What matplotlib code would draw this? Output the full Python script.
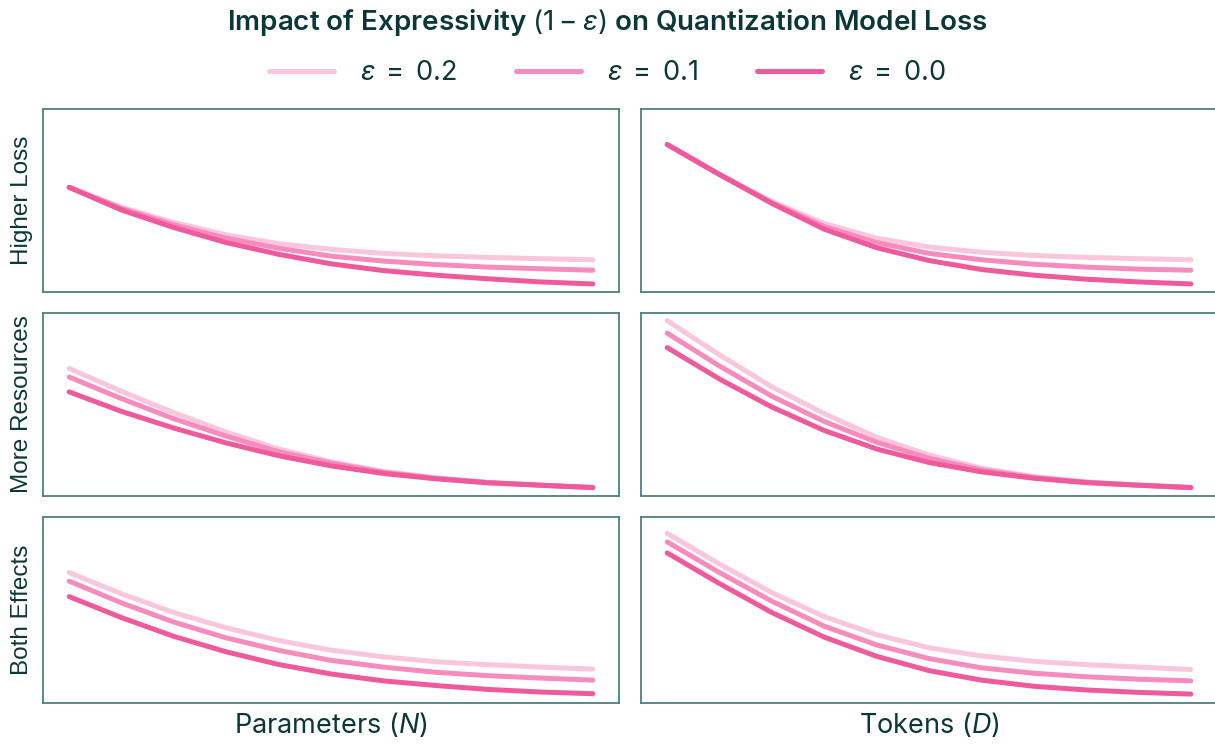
import matplotlib
matplotlib.use("Agg")
import matplotlib.pyplot as plt

plt.rcParams['font.family'] = ['Inter', 'DejaVu Sans']
plt.rcParams['mathtext.fontset'] = 'custom'
plt.rcParams['mathtext.rm'] = 'Inter'
plt.rcParams['mathtext.it'] = 'Inter:italic'
plt.rcParams['mathtext.bf'] = 'Inter:bold'

TEXT = '#0c3637'
SPINE = '#4d7f80'

title = r'Impact of Expressivity $(1-\varepsilon)$ on Quantization Model Loss'
series_labels = [r'$\varepsilon\;=\;0.2$', r'$\varepsilon\;=\;0.1$', r'$\varepsilon\;=\;0.0$']
series_colors = ['#f9c6de', '#f68cbd', '#ef5a9c']
row_labels = ['Higher Loss', 'More Resources', 'Both Effects']
col_labels = [r'Parameters $(N)$', r'Tokens $(D)$']

x = [0, 1, 2, 3, 4, 5, 6, 7, 8, 9, 10]

# values[row][col] = [eps0.2, eps0.1, eps0.0]
hl_N = [
    [0.572, 0.462, 0.380, 0.312, 0.264, 0.233, 0.211, 0.198, 0.189, 0.182, 0.176],
    [0.572, 0.457, 0.367, 0.294, 0.239, 0.196, 0.169, 0.150, 0.136, 0.127, 0.119],
    [0.572, 0.448, 0.352, 0.270, 0.206, 0.154, 0.117, 0.092, 0.072, 0.055, 0.044],
]
hl_D = [
    [0.806, 0.642, 0.494, 0.374, 0.294, 0.246, 0.217, 0.200, 0.189, 0.182, 0.176],
    [0.806, 0.642, 0.488, 0.358, 0.270, 0.211, 0.176, 0.152, 0.136, 0.125, 0.119],
    [0.806, 0.642, 0.484, 0.343, 0.242, 0.172, 0.123, 0.092, 0.070, 0.055, 0.044],
]
mr_N = [
    [0.697, 0.572, 0.455, 0.349, 0.257, 0.187, 0.134, 0.099, 0.075, 0.059, 0.046],
    [0.650, 0.532, 0.422, 0.327, 0.242, 0.180, 0.130, 0.097, 0.073, 0.059, 0.046],
    [0.569, 0.462, 0.371, 0.290, 0.220, 0.165, 0.123, 0.094, 0.072, 0.059, 0.046],
]
mr_D = [
    [0.958, 0.771, 0.596, 0.450, 0.321, 0.224, 0.152, 0.106, 0.077, 0.059, 0.046],
    [0.890, 0.710, 0.545, 0.407, 0.294, 0.206, 0.143, 0.101, 0.075, 0.059, 0.046],
    [0.811, 0.639, 0.486, 0.358, 0.257, 0.183, 0.132, 0.097, 0.073, 0.059, 0.046],
]
be_N = [
    [0.701, 0.587, 0.486, 0.404, 0.336, 0.284, 0.248, 0.222, 0.206, 0.193, 0.182],
    [0.655, 0.538, 0.435, 0.350, 0.283, 0.229, 0.193, 0.165, 0.147, 0.134, 0.123],
    [0.572, 0.459, 0.358, 0.275, 0.207, 0.156, 0.119, 0.094, 0.073, 0.059, 0.050],
]
be_D = [
    [0.912, 0.747, 0.593, 0.464, 0.367, 0.297, 0.253, 0.224, 0.206, 0.193, 0.180],
    [0.866, 0.701, 0.547, 0.413, 0.312, 0.239, 0.189, 0.160, 0.141, 0.128, 0.119],
    [0.807, 0.642, 0.486, 0.354, 0.251, 0.174, 0.123, 0.090, 0.070, 0.057, 0.048],
]
values = [[hl_N, hl_D], [mr_N, mr_D], [be_N, be_D]]

W, H = 1215, 747
fig = plt.figure(figsize=(W / 100, H / 100), dpi=100)

col_px = [(43, 619), (641, 1217)]
row_px = [(109, 292), (313, 496), (517, 703)]

handles = []
for r in range(3):
    for c in range(2):
        x0, x1 = col_px[c]
        t0, b0 = row_px[r]
        ax = fig.add_axes([x0 / W, 1 - b0 / H, (x1 - x0) / W, (b0 - t0) / H])
        for s in range(3):
            ln, = ax.plot(x, values[r][c][s], color=series_colors[s], lw=3.6,
                          solid_capstyle='round', solid_joinstyle='round',
                          label=series_labels[s])
            if r == 0 and c == 0:
                handles.append(ln)
        ax.set_ylim(0, 1)
        ax.set_xticks([])
        ax.set_yticks([])
        for sp in ax.spines.values():
            sp.set_color(SPINE)
            sp.set_linewidth(1.3)
        if c == 0:
            ax.set_ylabel(row_labels[r], fontsize=17.5, color=TEXT,
                          family=['Liberation Sans', 'DejaVu Sans'], labelpad=7)
        if r == 2:
            ax.set_xlabel(col_labels[c], fontsize=19.5, color=TEXT, labelpad=5)

fig.text(0.5, 1 - 22 / H, title, ha='center', va='center', fontsize=20,
         fontweight='semibold', color=TEXT)
leg = fig.legend(handles=handles, loc='center', bbox_to_anchor=(0.5, 1 - 73 / H),
                 ncol=3, frameon=False, fontsize=19.5, handlelength=2.4,
                 columnspacing=2.2, handletextpad=0.95)
for t in leg.get_texts():
    t.set_color(TEXT)

fig.savefig('out.png', dpi=100)
